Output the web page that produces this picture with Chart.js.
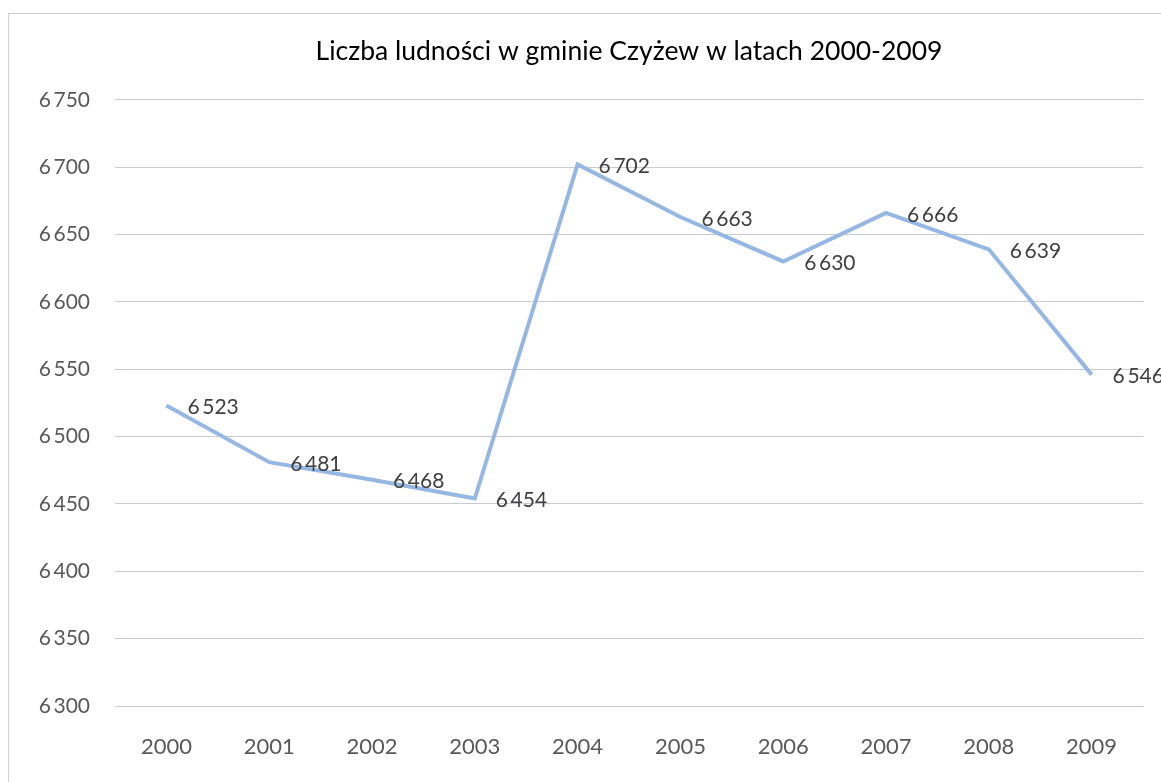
<!DOCTYPE html>
<html lang="pl">
<head>
<meta charset="utf-8">
<title>Liczba ludności w gminie Czyżew</title>
<script src="https://cdn.jsdelivr.net/npm/chart.js@4/dist/chart.umd.min.js"></script>
<style>
  html, body { margin: 0; padding: 0; background: #fff; }
  #wrap { width: 1161px; height: 782px; position: relative; }
</style>
</head>
<body>
<div id="wrap"><canvas id="chart" width="1161" height="782"></canvas></div>
<script>
const years = ['2000', '2001', '2002', '2003', '2004', '2005', '2006', '2007', '2008', '2009'];
const population = [6523, 6481, 6468, 6454, 6702, 6663, 6630, 6666, 6639, 6546];
const yMin = 6300;
const yMax = 6750;
const yStep = 50;

const fontName = 'Lato, "Open Sans", sans-serif';

// "6 750" style numbers, thin space as thousands separator
const fmt = v => {
  const s = String(Math.round(v));
  return s.length > 3 ? s.slice(0, s.length - 3) + '\u2009' + s.slice(-3) : s;
};

// faint frame of the chart object (only top and left edge visible)
const frame = {
  id: 'frame',
  beforeDraw(chart) {
    const c = chart.ctx;
    c.save();
    c.fillStyle = '#fff';
    c.fillRect(0, 0, chart.width, chart.height);
    c.strokeStyle = '#d0d0d0';
    c.lineWidth = 1;
    c.strokeRect(8.5, 13.5, chart.width + 10, chart.height + 10);
    c.restore();
  }
};

// value labels to the right of each point
const pointLabels = {
  id: 'pointLabels',
  afterDatasetsDraw(chart) {
    const c = chart.ctx;
    const meta = chart.getDatasetMeta(0);
    c.save();
    c.font = '21px ' + fontName;
    c.fillStyle = '#404040';
    c.textAlign = 'left';
    c.textBaseline = 'middle';
    meta.data.forEach((pt, i) => {
      c.fillText(fmt(population[i]), pt.x + 21, pt.y + 2);
    });
    c.restore();
  }
};

new Chart(document.getElementById('chart'), {
  type: 'line',
  data: {
    labels: years,
    datasets: [{
      data: population,
      borderColor: '#96b7e4',
      borderWidth: 4,
      pointRadius: 0,
      tension: 0,
      fill: false
    }]
  },
  options: {
    responsive: false,
    animation: false,
    layout: { padding: { left: 10, right: 18, top: 0, bottom: 0 } },
    plugins: {
      legend: { display: false },
      tooltip: { enabled: false },
      title: {
        display: true,
        fullSize: false, // centred over the plot area, not the whole canvas
        text: 'Liczba ludności w gminie Czyżew w latach 2000-2009',
        color: '#000',
        font: { family: fontName, size: 26.5, weight: 'normal' },
        padding: { top: 36, bottom: 32 }
      }
    },
    scales: {
      x: {
        offset: true,
        afterFit(scale) { scale.height = 76; },
        grid: { display: false, drawTicks: false },
        border: { display: false },
        ticks: {
          color: '#595959',
          font: { family: fontName, size: 22 },
          padding: 28,
          maxRotation: 0
        }
      },
      y: {
        min: yMin,
        max: yMax,
        afterFit(scale) { scale.width = 105; },
        grid: { color: '#c8ccd2', lineWidth: 1, drawTicks: false },
        border: { display: false },
        ticks: {
          stepSize: yStep,
          color: '#595959',
          font: { family: fontName, size: 21 },
          padding: 25,
          callback: v => fmt(v)
        }
      }
    }
  },
  plugins: [frame, pointLabels]
});
</script>
</body>
</html>
